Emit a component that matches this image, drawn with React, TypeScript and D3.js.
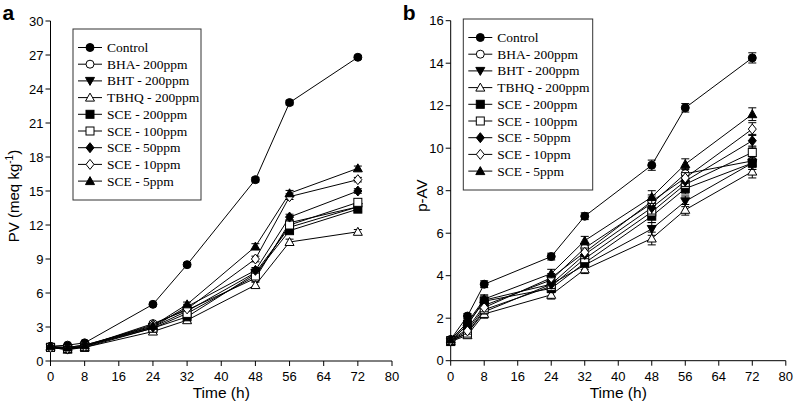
import React from "react";
import * as d3 from "d3";

const hours = [0, 4, 8, 24, 32, 48, 56, 72];
const seriesNames = [
  "Control",
  "BHA- 200ppm",
  "BHT - 200ppm",
  "TBHQ - 200ppm",
  "SCE - 200ppm",
  "SCE - 100ppm",
  "SCE - 50ppm",
  "SCE - 10ppm",
  "SCE - 5ppm",
];
const markerTypes = ["circleF", "circleO", "triDownF", "triUpO", "squareF", "squareO", "diamondF", "diamondO", "triUpF"];

// Panel a: PV (meq kg-1)
const pvControl = [1.3, 1.4, 1.6, 5.0, 8.5, 16.0, 22.8, 26.8];
const pvBHA = [1.2, 1.0, 1.3, 3.3, 4.5, 7.3, 12.2, 13.6];
const pvBHT = [1.2, 1.1, 1.3, 3.0, 4.4, 7.8, 11.8, 13.6];
const pvTBHQ = [1.2, 1.0, 1.2, 2.6, 3.6, 6.7, 10.5, 11.4];
const pvSCE200 = [1.2, 1.1, 1.2, 2.9, 3.9, 7.7, 11.5, 13.4];
const pvSCE100 = [1.2, 1.1, 1.3, 2.9, 4.2, 7.5, 12.0, 14.0];
const pvSCE50 = [1.2, 1.2, 1.4, 3.0, 4.8, 8.0, 12.7, 15.0];
const pvSCE10 = [1.2, 1.1, 1.3, 3.2, 4.6, 9.0, 14.5, 16.0];
const pvSCE5 = [1.3, 1.2, 1.4, 3.1, 5.0, 10.1, 14.8, 17.0];
const pvErr = [0.1, 0.1, 0.1, 0.15, 0.2, 0.25, 0.25, 0.2];

// Panel b: p-AV
const avControl = [1.0, 2.1, 3.6, 4.9, 6.8, 9.2, 11.9, 14.25];
const avBHA = [0.95, 1.5, 2.6, 3.8, 5.3, 7.4, 8.8, 9.4];
const avBHT = [0.9, 1.3, 2.3, 3.6, 4.5, 6.2, 7.5, 9.3];
const avTBHQ = [0.9, 1.2, 2.2, 3.1, 4.3, 5.75, 7.1, 8.9];
const avSCE200 = [0.9, 1.7, 2.8, 3.4, 4.6, 6.8, 8.1, 9.3];
const avSCE100 = [0.95, 1.3, 2.4, 3.5, 4.8, 7.0, 8.3, 9.8];
const avSCE50 = [0.95, 1.7, 2.85, 3.6, 5.0, 7.2, 8.45, 10.35];
const avSCE10 = [0.95, 1.4, 2.5, 3.9, 5.1, 7.5, 8.6, 10.9];
const avSCE5 = [1.0, 1.8, 2.9, 4.1, 5.65, 7.7, 9.25, 11.6];
const avErr = [0.1, 0.15, 0.2, 0.2, 0.2, 0.3, 0.25, 0.3];

const pvSeries = [pvControl, pvBHA, pvBHT, pvTBHQ, pvSCE200, pvSCE100, pvSCE50, pvSCE10, pvSCE5];
const avSeries = [avControl, avBHA, avBHT, avTBHQ, avSCE200, avSCE100, avSCE50, avSCE10, avSCE5];

const xTicks = [0, 8, 16, 24, 32, 40, 48, 56, 64, 72, 80];
const pvTicks = [0, 3, 6, 9, 12, 15, 18, 21, 24, 27, 30];
const avTicks = [0, 2, 4, 6, 8, 10, 12, 14, 16];

const SANS = "Liberation Sans, Arial, sans-serif";
const SERIF = "Liberation Serif, Times New Roman, serif";

function Marker({ type, x, y }: { type: string; x: number; y: number }) {
  const filled = type.endsWith("F");
  const fill = filled ? "#000" : "#fff";
  const common = { fill, stroke: "#000", strokeWidth: 1 };
  const r = 4;
  if (type.startsWith("circle")) return <circle cx={x} cy={y} r={r} {...common} />;
  if (type.startsWith("square")) return <rect x={x - r} y={y - r} width={2 * r} height={2 * r} {...common} />;
  if (type.startsWith("diamond"))
    return <path d={`M${x},${y - 5}L${x + 4},${y}L${x},${y + 5}L${x - 4},${y}Z`} {...common} />;
  if (type === "triDownF")
    return <path d={`M${x - 4.5},${y - 3.5}L${x + 4.5},${y - 3.5}L${x},${y + 4.5}Z`} {...common} />;
  return <path d={`M${x - 4.5},${y + 3.5}L${x + 4.5},${y + 3.5}L${x},${y - 4.5}Z`} {...common} />;
}

type PanelProps = {
  label: string;
  x0: number;
  x1: number;
  y0: number;
  y1: number;
  yMax: number;
  yTicks: number[];
  series: number[][];
  err: number[];
  yTitle: React.ReactNode;
  yTitleX: number;
  legend: { x: number; y: number; w: number; h: number };
};

function Panel(p: PanelProps) {
  const xs = d3.scaleLinear().domain([0, 80]).range([p.x0, p.x1]);
  const ys = d3.scaleLinear().domain([0, p.yMax]).range([p.y0, p.y1]);
  const line = d3
    .line<number>()
    .x((_, i) => xs(hours[i]))
    .y((d) => ys(d));
  const yMid = (p.y0 + p.y1) / 2;
  return (
    <g>
      <text x={p.x0 - 48} y={20} fontFamily={SANS} fontWeight="bold" fontSize={21}>
        {p.label}
      </text>
      {/* axes */}
      <line x1={p.x0} x2={p.x0} y1={ys(0)} y2={ys(p.yMax)} stroke="#000" />
      <line x1={xs(0)} x2={xs(80)} y1={p.y0} y2={p.y0} stroke="#000" />
      {p.yTicks.map((t) => (
        <g key={"y" + t}>
          <line x1={p.x0 - 5} x2={p.x0} y1={ys(t)} y2={ys(t)} stroke="#000" />
          <text x={p.x0 - 7} y={ys(t) + 4.5} textAnchor="end" fontFamily={SANS} fontSize={13}>
            {t}
          </text>
        </g>
      ))}
      {xTicks.map((t) => (
        <g key={"x" + t}>
          <line x1={xs(t)} x2={xs(t)} y1={p.y0} y2={p.y0 + 5} stroke="#000" />
          <text x={xs(t)} y={p.y0 + 20} textAnchor="middle" fontFamily={SANS} fontSize={13}>
            {t}
          </text>
        </g>
      ))}
      <text x={(xs(0) + xs(80)) / 2} y={p.y0 + 37} textAnchor="middle" fontFamily={SANS} fontSize={15.5}>
        Time (h)
      </text>
      <text
        transform={`translate(${p.yTitleX},${yMid + 5}) rotate(-90)`}
        textAnchor="middle"
        fontFamily={SANS}
        fontSize={15}
      >
        {p.yTitle}
      </text>
      {/* series */}
      {p.series.map((s, si) => (
        <g key={"s" + si}>
          <path d={line(s) || ""} fill="none" stroke="#000" strokeWidth={1} />
        </g>
      ))}
      {p.series.map((s, si) => (
        <g key={"m" + si}>
          {s.map((v, i) => {
            const e = p.err[i] * (si === 0 ? 0.8 : 1);
            const cx = xs(hours[i]);
            return (
              <g key={i}>
                <line x1={cx} x2={cx} y1={ys(v - e)} y2={ys(v + e)} stroke="#000" />
                <line x1={cx - 4} x2={cx + 4} y1={ys(v + e)} y2={ys(v + e)} stroke="#000" />
                <line x1={cx - 4} x2={cx + 4} y1={ys(v - e)} y2={ys(v - e)} stroke="#000" />
                <Marker type={markerTypes[si]} x={cx} y={ys(v)} />
              </g>
            );
          })}
        </g>
      ))}
      {/* legend */}
      <rect x={p.legend.x} y={p.legend.y} width={p.legend.w} height={p.legend.h} fill="#fff" stroke="#333" strokeWidth={1} />
      {seriesNames.map((n, i) => {
        const ly = p.legend.y + 18.5 + i * 16.7;
        const lx = p.legend.x + 5;
        return (
          <g key={n}>
            <line x1={lx} x2={lx + 24} y1={ly} y2={ly} stroke="#000" />
            <Marker type={markerTypes[i]} x={lx + 12} y={ly} />
            <text x={lx + 29} y={ly + 4.5} fontFamily={SERIF} fontSize={13.5}>
              {n}
            </text>
          </g>
        );
      })}
    </g>
  );
}

export default function App() {
  return (
    <svg width={798} height={403} style={{ position: "absolute", left: 0, top: 0, background: "#fff" }}>
      <rect width={798} height={403} fill="#fff" />
      <Panel
        label="a"
        x0={50.5}
        x1={392}
        y0={361}
        y1={21}
        yMax={30}
        yTicks={pvTicks}
        series={pvSeries}
        err={pvErr}
        yTitle={
          <>
            PV (meq kg
            <tspan dy={-6} fontSize={10}>
              -1
            </tspan>
            <tspan dy={6}>)</tspan>
          </>
        }
        yTitleX={19}
        legend={{ x: 73, y: 29, w: 128, h: 171 }}
      />
      <Panel
        label="b"
        x0={450.7}
        x1={785.8}
        y0={360.7}
        y1={20.7}
        yMax={16}
        yTicks={avTicks}
        series={avSeries}
        err={avErr}
        yTitle="p-AV"
        yTitleX={427}
        legend={{ x: 463.3, y: 19, w: 129.4, h: 171 }}
      />
    </svg>
  );
}
